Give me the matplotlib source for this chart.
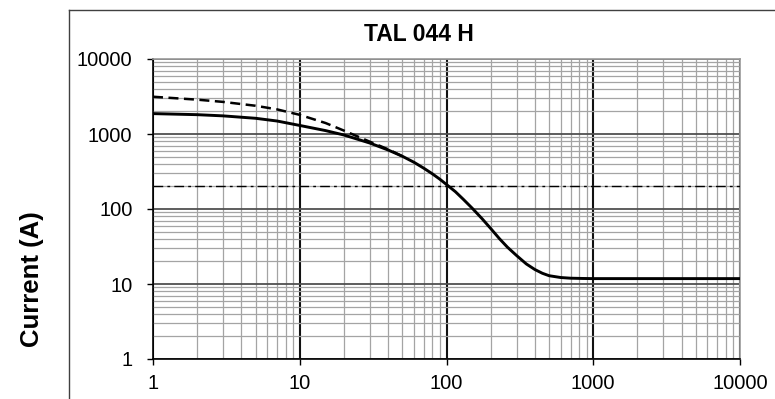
import matplotlib
matplotlib.use("Agg")
import matplotlib.pyplot as plt
from matplotlib.lines import Line2D
from matplotlib.ticker import LogLocator, NullFormatter

plt.rcParams['font.family'] = ['Liberation Sans', 'DejaVu Sans']

TITLE = "TAL 044 H"
Y_LABEL = "Current (A)"

ticks = [1, 10, 100, 1000, 10000]
tick_labels = ["1", "10", "100", "1000", "10000"]

# main curve (solid)
solid_x = [1, 2, 3, 5, 7, 10, 15, 20, 30, 40, 50, 60, 70, 80, 90, 100,
           115, 130, 150, 175, 200, 230, 260, 300, 350, 400, 450, 500,
           600, 700, 850, 1000, 10000]
solid_y = [1870, 1810, 1745, 1620, 1490, 1300, 1110, 970, 758, 612, 505, 420,
           350, 295, 250, 212, 170, 135, 102, 74, 55, 40, 31, 24, 18.5,
           15.6, 13.9, 12.9, 12.2, 11.95, 11.85, 11.8, 11.8]

# upper curve (dashed), merges with the solid one near 40-50
dash_x = [1, 2, 3, 5, 7, 10, 15, 20, 30, 40, 50]
dash_y = [3140, 2870, 2680, 2380, 2130, 1800, 1400, 1110, 790, 625, 505]

# horizontal limit (dash-dot)
limit_x = [1, 10000]
limit_y = [200, 200]

fig = plt.figure(figsize=(7.75, 3.99), dpi=100)
ax = fig.add_axes([153 / 775, 40 / 399, 587 / 775, 300 / 399])
ax.set_xscale('log')
ax.set_yscale('log')
ax.set_xlim(1, 10000)
ax.set_ylim(1, 10000)

ax.xaxis.set_minor_locator(LogLocator(base=10, subs=range(2, 10), numticks=20))
ax.yaxis.set_minor_locator(LogLocator(base=10, subs=range(2, 10), numticks=20))
ax.xaxis.set_minor_formatter(NullFormatter())
ax.yaxis.set_minor_formatter(NullFormatter())
ax.set_xticks(ticks)
ax.set_xticklabels(tick_labels)
ax.set_yticks(ticks)
ax.set_yticklabels(tick_labels)

ax.grid(which='minor', color='#a4a4a4', linewidth=0.9)
ax.xaxis.grid(True, which='major', color='#111111', linewidth=1.5)
ax.yaxis.grid(True, which='major', color='#505050', linewidth=1.3)

ax.tick_params(which='major', length=4.3, width=1, color='black',
               labelsize=14.5, direction='out')
ax.tick_params(axis='x', which='major', pad=6.5)
ax.tick_params(axis='y', which='major', pad=10.5)
ax.tick_params(which='minor', length=0)

for side in ['left', 'bottom']:
    ax.spines[side].set_color('black')
    ax.spines[side].set_linewidth(1.2)
for side in ['top', 'right']:
    ax.spines[side].set_color('#9a9a9a')
    ax.spines[side].set_linewidth(1.2)

ax.plot(limit_x, limit_y, color='black', linewidth=1.0,
        linestyle=(0, (7, 3, 2, 3)), zorder=3)
ax.plot(dash_x, dash_y, color='black', linewidth=1.8,
        linestyle=(0, (4, 2.2)), zorder=3)
ax.plot(solid_x, solid_y, color='black', linewidth=2.1,
        solid_capstyle='butt', solid_joinstyle='round', zorder=4)

fig.text(419 / 775, (399 - 41) / 399, TITLE, ha='center', va='baseline',
         fontsize=16.5, fontweight='bold')
fig.text(32 / 775, (399 - 279) / 399, Y_LABEL, ha='center', va='center',
         rotation=90, fontsize=18.5, fontweight='bold')

# outer chart-area frame (cut off at right and bottom)
fig.add_artist(Line2D([69 / 775, 69 / 775], [0, (399 - 10) / 399],
                      transform=fig.transFigure, color='#404040', linewidth=1.0))
fig.add_artist(Line2D([69 / 775, 1], [(399 - 10) / 399, (399 - 10) / 399],
                      transform=fig.transFigure, color='#404040', linewidth=1.0))

fig.savefig('out.png', dpi=100)
